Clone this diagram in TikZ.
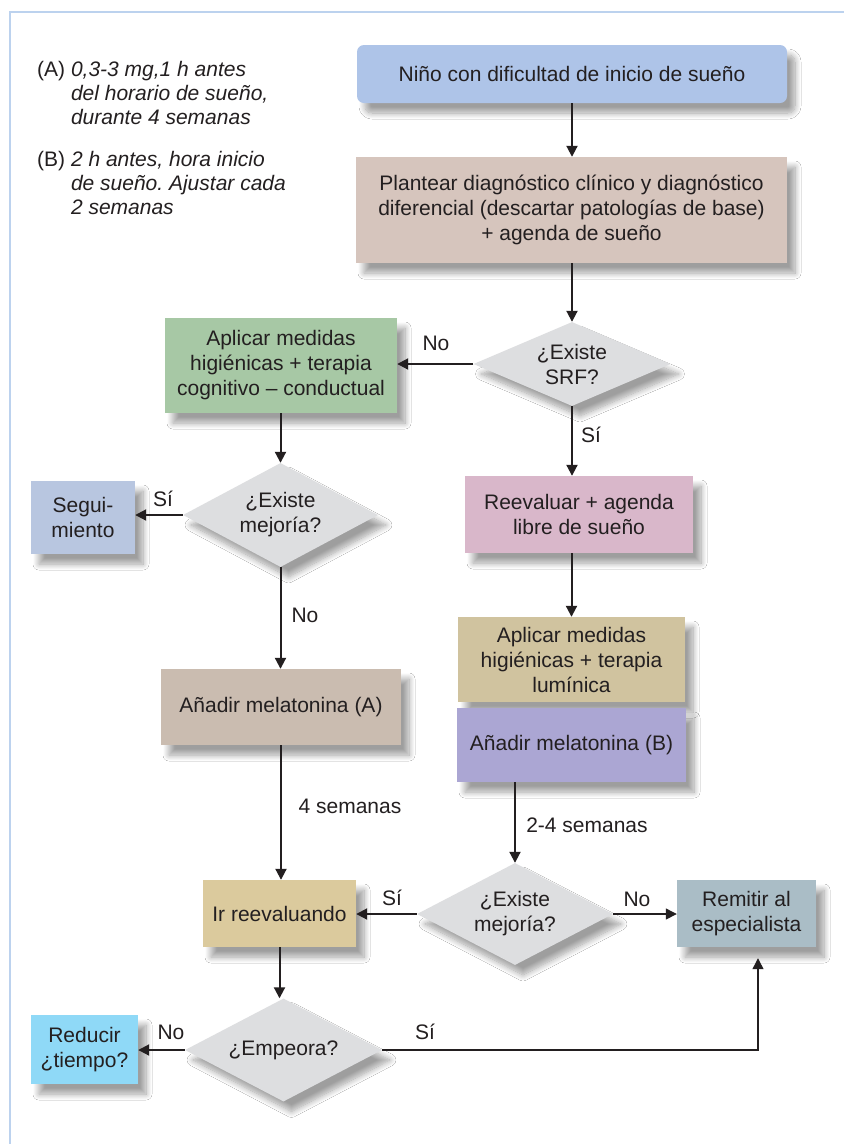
\documentclass[tikz,border=0pt]{standalone}
\usepackage{fontspec}
\setmainfont{Liberation Sans}
\usetikzlibrary{arrows.meta,shapes.geometric,shadows.blur}
\definecolor{txt}{HTML}{231F20}
\definecolor{frame}{HTML}{BCD2EE}
\definecolor{cA}{HTML}{AEC4E8}
\definecolor{cB}{HTML}{D6C5BD}
\definecolor{cG}{HTML}{A7C8A5}
\definecolor{cP}{HTML}{D9B7CA}
\definecolor{cT}{HTML}{D0C39F}
\definecolor{cL}{HTML}{ABA6D3}
\definecolor{cS}{HTML}{B8C6E0}
\definecolor{cM}{HTML}{CABCB0}
\definecolor{cI}{HTML}{DBCA9D}
\definecolor{cR}{HTML}{AABDC6}
\definecolor{cC}{HTML}{8FD9F7}
\definecolor{cD}{HTML}{DDDEE0}
\frenchspacing
\begin{document}
\begin{tikzpicture}[x=1pt,y=-1pt,
  font=\fontsize{21}{25}\selectfont,
  shad/.style={blur shadow={shadow xshift=8pt,shadow yshift=-10pt,shadow blur radius=6pt,shadow blur steps=12,shadow opacity=38}},
  box/.style={rectangle,draw=none,align=center,inner sep=0pt,text=txt,shad},
  dia/.style={diamond,draw=none,fill=cD,align=center,inner sep=0pt,text=txt,shad},
  arr/.style={line width=2pt,draw=txt,-{Triangle[width=11pt,length=11pt]}},
  tarr/.style={line width=1.3pt,draw=txt,-{Triangle[width=11pt,length=11pt]}},
  lbl/.style={text=txt,inner sep=0pt}]
\useasboundingbox (0,0) rectangle (844,1144);
\fill[white] (0,0) rectangle (844,1144);
\draw[frame,line width=2pt] (10,1144) -- (10,12) -- (844,12);

% annotations
\node[anchor=north west,inner sep=0pt,text=txt,font=\fontsize{21}{24}\selectfont] (annA) at (37,59)
  {\begin{tabular}{@{}l@{\ }l@{}}(A) & \textit{0,3-3 mg,1 h antes}\\ & \textit{del horario de sueño,}\\ & \textit{durante 4 semanas}\end{tabular}};
\node[anchor=north west,inner sep=0pt,text=txt,font=\fontsize{21}{24}\selectfont] (annB) at (37,149)
  {\begin{tabular}{@{}l@{\ }l@{}}(B) & \textit{2 h antes, hora inicio}\\ & \textit{de sueño. Ajustar cada}\\ & \textit{2 semanas}\end{tabular}};

% nodes
\node[box,fill=cA,rounded corners=7pt,minimum width=430pt,minimum height=58pt] (n1) at (572,74) {Niño con dificultad de inicio de sueño};
\node[box,fill=cB,minimum width=431pt,minimum height=106pt] (n2) at (571.5,210) {Plantear diagnóstico clínico y diagnóstico\\diferencial (descartar patologías de base)\\+ agenda de sueño};
\node[dia,aspect=2.35,minimum width=197pt,minimum height=84pt] (d1) at (572,364) {¿Existe\\SRF?};
\node[box,fill=cG,minimum width=232pt,minimum height=95pt] (g) at (281,365.5) {Aplicar medidas\\higiénicas + terapia\\cognitivo – conductual};
\node[box,fill=cS,minimum width=104pt,minimum height=73pt] (seg) at (83,517.5) {Segui-\\miento};
\node[dia,aspect=1.88,minimum width=195pt,minimum height=104pt] (dl) at (280.5,515) {¿Existe\\mejoría?};
\node[box,fill=cP,minimum width=228pt,minimum height=77pt] (reev) at (579,514.5) {Reevaluar + agenda\\libre de sueño};
\node[box,fill=cT,minimum width=227pt,minimum height=85pt] (lum) at (571.5,659.5) {Aplicar medidas\\higiénicas + terapia\\lumínica};
\node[box,fill=cL,minimum width=229pt,minimum height=74pt] (mb) at (571.5,745) {Añadir melatonina (B)};
\node[box,fill=cM,minimum width=240pt,minimum height=76pt] (ma) at (281,707) {Añadir melatonina (A)};
\node[dia,aspect=1.92,minimum width=196pt,minimum height=102pt] (d2) at (515,914) {¿Existe\\mejoría?};
\node[box,fill=cI,minimum width=153pt,minimum height=67pt] (ir) at (279.5,913.5) {Ir reevaluando};
\node[box,fill=cR,minimum width=139pt,minimum height=67pt] (rem) at (746.5,913.5) {Remitir al\\especialista};
\node[dia,aspect=1.91,minimum width=197pt,minimum height=103pt] (d3) at (283.5,1050) {¿Empeora?};
\node[box,fill=cC,minimum width=107pt,minimum height=69pt] (red) at (84.5,1049.5) {Reducir\\¿tiempo?};

% connectors
\draw[arr] (n1.south) -- (n1.south |- n2.north);
\draw[arr] (n2.south -| d1.north) -- (d1.north);
\draw[arr] (d1.west) -- (d1.west -| g.east);
\draw[arr] (d1.south) -- (d1.south |- reev.north);
\draw[arr] (dl.north |- g.south) -- (dl.north);
\draw[arr] (dl.west) -- (dl.west -| seg.east);
\draw[arr] (dl.south) -- (dl.south |- ma.north);
\draw[arr] (reev.south -| lum.north) -- (lum.north);
\draw[arr] (mb.south -| d2.north) -- (d2.north);
\draw[arr] (ma.south) -- (ma.south |- ir.north);
\draw[arr] (d2.west) -- (d2.west -| ir.east);
\draw[tarr] (d2.east) -- (d2.east -| rem.west);
\draw[arr] (ir.south) -- (ir.south |- d3.north);
\draw[arr] (d3.west) -- (d3.west -| red.east);
\draw[tarr,shorten >=11pt] (d3.east) -| ([xshift=11.5pt]rem.south);

% labels
\node[lbl] (l1) at (436,343) {No};
\node[lbl] (l2) at (591,435) {Sí};
\node[lbl] (l3) at (163,499) {Sí};
\node[lbl] (l4) at (305,615) {No};
\node[lbl] (l5) at (350,806) {4 semanas};
\node[lbl] (l6) at (587,825) {2-4 semanas};
\node[lbl] (l7) at (392,898) {Sí};
\node[lbl] (l8) at (637,899) {No};
\node[lbl] (l9) at (171,1032) {No};
\node[lbl] (l10) at (425,1032) {Sí};
\end{tikzpicture}
\end{document}
